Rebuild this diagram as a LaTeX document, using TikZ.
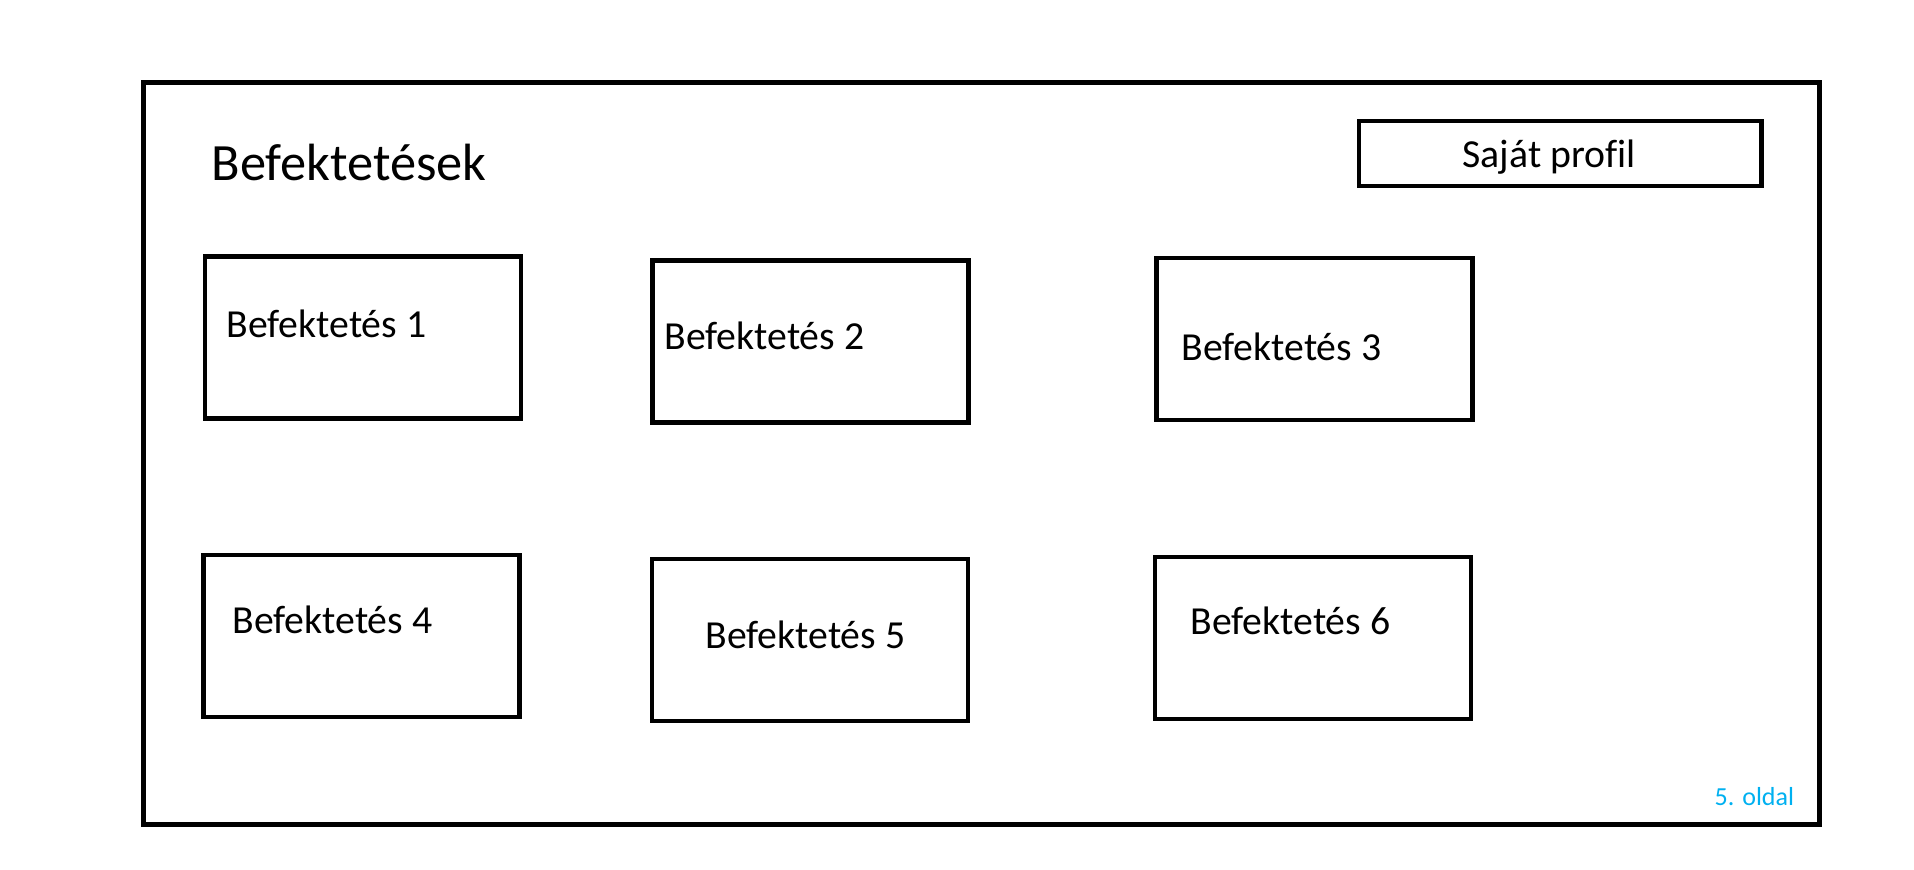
\documentclass[tikz,border=0pt]{standalone}
\usepackage{fontspec}
\setmainfont{Carlito}[Ligatures=NoCommon]
\usepackage{tikz}
\definecolor{pageblue}{HTML}{00B0F0}

\begin{document}
\begin{tikzpicture}[x=0.01cm, y=-0.01cm,
  invbox/.style={rectangle, draw, line width=1.35pt, minimum width=31.6mm, minimum height=16.2mm, inner sep=0pt},
  invtext/.style={anchor=base west, inner sep=0pt, font=\fontsize{11.3}{13}\selectfont}]
\useasboundingbox (0,0) rectangle (1914,869);
\node (frame) [rectangle, draw, line width=1.5pt, minimum width=167.5mm, minimum height=74.1mm, inner sep=0pt] at (981.5,453.5) {};
\node (title) [anchor=base west, inner sep=0pt, font=\fontsize{14.9}{17}\selectfont] at (211,180) {Befektetések};
\node (profil) [rectangle, draw, line width=1.35pt, minimum width=40.2mm, minimum height=6.5mm, inner sep=0pt] at (1560,153.5) {};
\node (profiltext) [invtext] at (1462,167) {Saját profil};
\node (inv1) [invbox] at (363,337.5) {};
\node (inv2) [invbox] at (810.5,341.5) {};
\node (inv3) [invbox] at (1314.5,339) {};
\node (inv4) [invbox] at (361.5,636) {};
\node (inv5) [invbox] at (810,640) {};
\node (inv6) [invbox] at (1313,638) {};
\node (t1) [invtext] at (226,337) {Befektetés 1};
\node (t2) [invtext] at (664,349) {Befektetés 2};
\node (t3) [invtext] at (1181,360) {Befektetés 3};
\node (t4) [invtext] at (232,633) {Befektetés 4};
\node (t5) [invtext] at (705,648) {Befektetés 5};
\node (t6) [invtext] at (1190,634) {Befektetés 6};
\node (page) [anchor=base west, inner sep=0pt, text=pageblue, font=\fontsize{7.4}{9}\selectfont] at (1714,805) {5. oldal};
\end{tikzpicture}
\end{document}
